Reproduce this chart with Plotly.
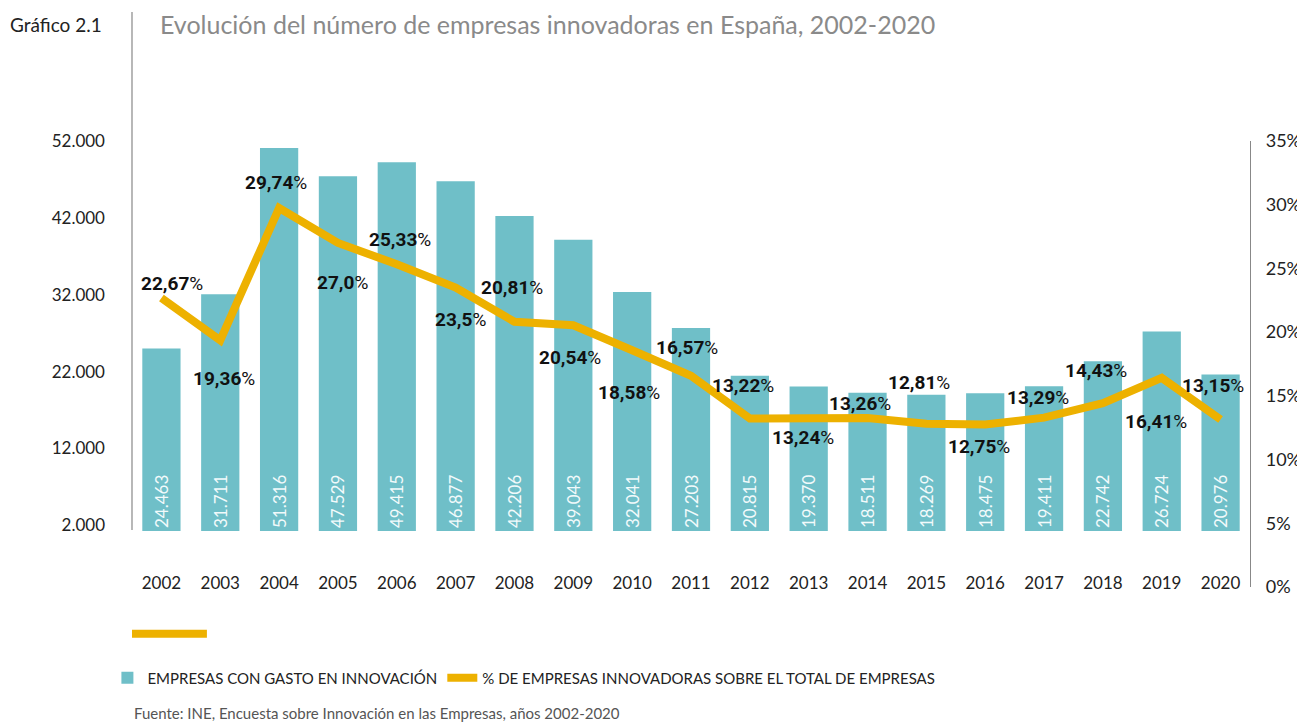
import plotly.graph_objects as go
import numpy as np

years = [str(y) for y in range(2002, 2021)]
empresas_gasto = [24463, 31711, 51316, 47529, 49415, 46877, 42206, 39043, 32041, 27203,
                  20815, 19370, 18511, 18269, 18475, 19411, 22742, 26724, 20976]
pct_innovadoras = [22.67, 19.36, 29.74, 27.0, 25.33, 23.5, 20.81, 20.54, 18.58, 16.57,
                   13.22, 13.24, 13.26, 12.81, 12.75, 13.29, 14.43, 16.41, 13.15]
left_ticktext = ["2.000", "12.000", "22.000", "32.000", "42.000", "52.000"]

TEAL = "#6FBFC8"
GOLD = "#EDB100"
FONT = "Lato"

# label offsets (px) around each point of the line
label_dx = [11, 4, -3, 5, 3, 5, -2, -3, -3, -4, -7, -6, -8, -7, -6, -6, -7, -6, -8]
label_dy = [15, -38, 26, -40, 25, -32, 34, -32, -42, 28, 33, -19, 15, 41, -22, 20, 33, -44, 34]

fig = go.Figure()

fig.add_trace(go.Bar(
    x=years, y=empresas_gasto,
    name="EMPRESAS CON GASTO EN INNOVACIÓN",
    marker=dict(color=TEAL, line=dict(width=0)),
    width=0.65,
    texttemplate="%{y:,}",
    textposition="inside",
    insidetextanchor="start",
    textangle=-90,
    textfont=dict(family=FONT, size=17, color="#F2FAFB"),
    cliponaxis=False,
))

fig.add_trace(go.Scatter(
    x=years, y=pct_innovadoras, yaxis="y2",
    name="% DE EMPRESAS INNOVADORAS SOBRE EL TOTAL DE EMPRESAS",
    mode="lines",
    line=dict(color=GOLD, width=8),
))

# category index i is the position of years[i] on the x axis
for i, v in enumerate(pct_innovadoras):
    fig.add_annotation(
        x=i, y=v, xref="x", yref="y2",
        text="<b>" + str(v).replace(".", ",") + "</b>%",
        showarrow=False, xshift=label_dx[i], yshift=label_dy[i],
        font=dict(family="Roboto", size=19, color="#111"),
    )

# header
fig.add_annotation(x=-0.111, y=1.262, xref="paper", yref="paper", xanchor="left", yanchor="middle",
                   text="Gráfico 2.1", showarrow=False, font=dict(family=FONT, size=19, color="#222"))
fig.add_annotation(x=0.0233, y=1.262, xref="paper", yref="paper", xanchor="left", yanchor="middle",
                   text="Evolución del número de empresas innovadoras en España, 2002-2020",
                   showarrow=False, font=dict(family=FONT, size=25, color="#8a8a8a"))
fig.add_annotation(x=0, y=-0.283, xref="paper", yref="paper", xanchor="left", yanchor="middle",
                   text="Fuente: INE, Encuesta sobre Innovación en las Empresas, años 2002-2020",
                   showarrow=False, font=dict(family=FONT, size=15, color="#555"))

# left separator / axis line and decorative bar
fig.add_shape(type="line", xref="paper", yref="paper", x0=0, x1=0, y0=1.289, y1=0.128,
              line=dict(color="#888", width=1.2))
fig.add_shape(type="rect", xref="paper", yref="paper", x0=0, x1=0.067, y0=-0.096, y1=-0.114,
              fillcolor=GOLD, line=dict(width=0))

# the page body has an 8px margin, so the figure is sized and shifted to compensate
fig.update_layout(
    width=1297, height=714,
    margin=dict(l=124, r=55, t=133, b=135),
    plot_bgcolor="white", paper_bgcolor="white",
    separators=",.",
    bargap=0.35,
    font=dict(family=FONT, color="#222"),
    showlegend=True,
    legend=dict(orientation="h", x=-0.022, y=-0.204, xanchor="left", yanchor="middle",
                font=dict(family=FONT, size=15, color="#222"), itemwidth=30,
                traceorder="normal"),
    xaxis=dict(type="category", range=[-0.5, len(years) - 0.5], showline=False, ticks="",
               showgrid=False, automargin=False,
               tickfont=dict(family=FONT, size=17, color="#222"),
               ticklabelstandoff=-16),
    yaxis=dict(range=[-7504, 52260], showgrid=False, zeroline=False, showline=False,
               automargin=False,
               tickvals=np.linspace(800, 52200, 6), ticktext=left_ticktext,
               tickfont=dict(family=FONT, size=17, color="#222"), ticklabelstandoff=26),
    yaxis2=dict(overlaying="y", side="right", range=[0, 35], dtick=5, ticksuffix="%",
                showgrid=False, zeroline=False, showline=True, linecolor="#888", linewidth=1.2,
                automargin=False,
                tickfont=dict(family=FONT, size=18, color="#222"), ticklabelstandoff=11),
)

fig.write_html("out.html")
